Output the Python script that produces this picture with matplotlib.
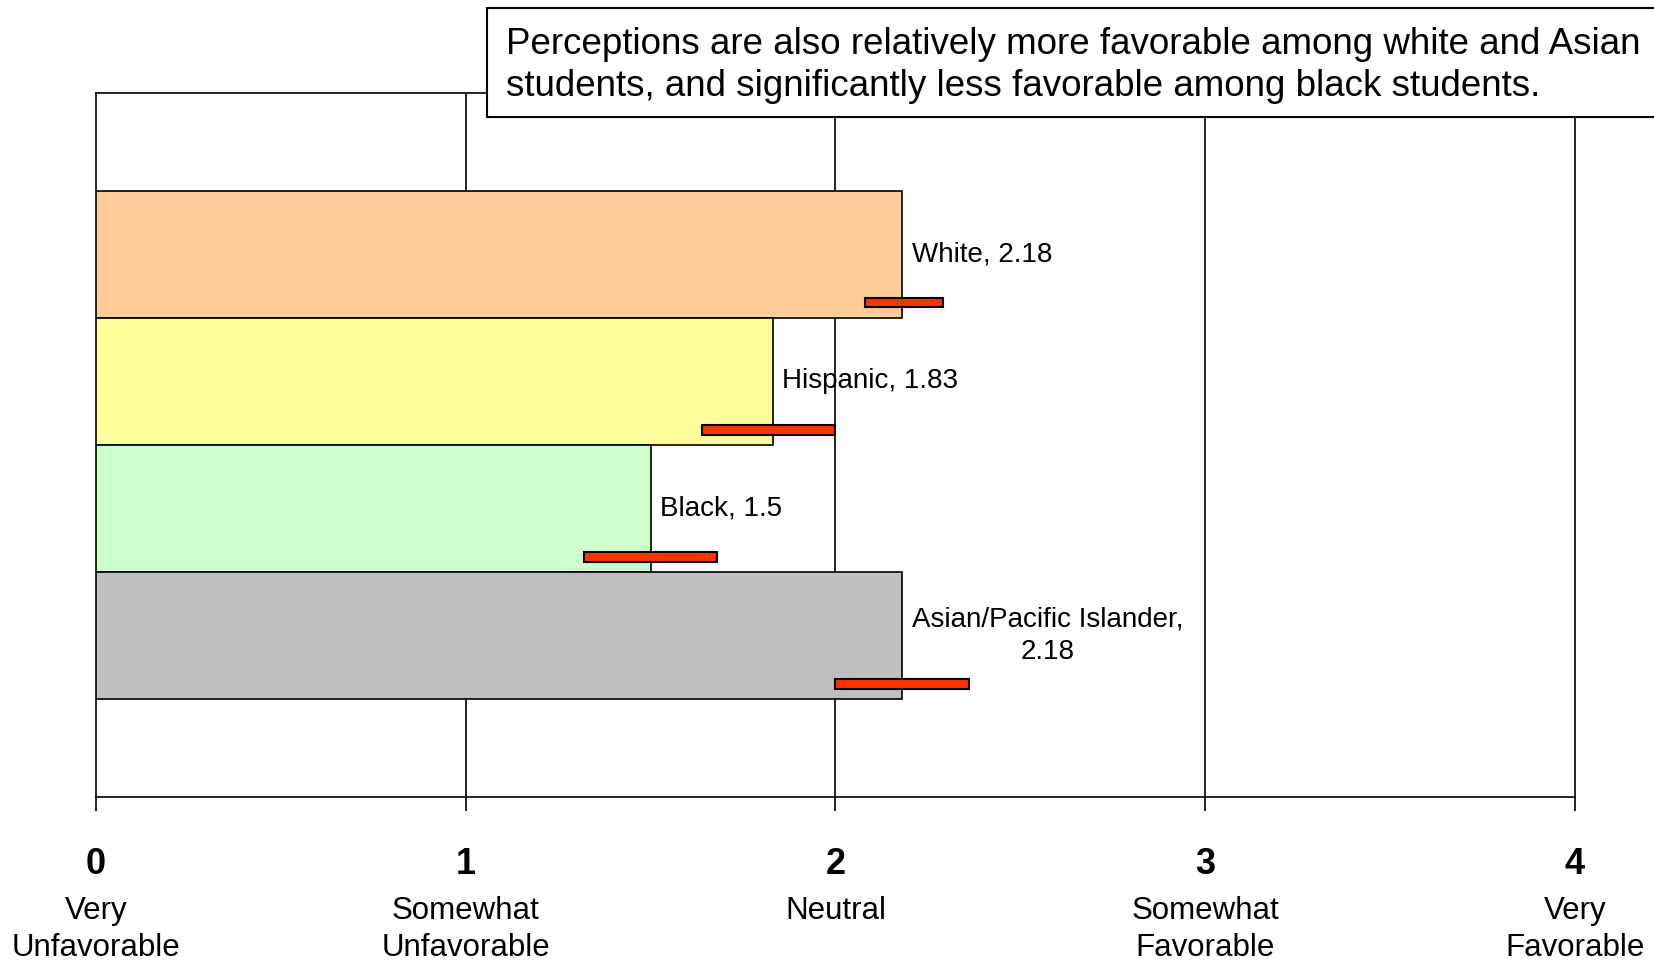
import numpy as np
import matplotlib
matplotlib.use("Agg")
import matplotlib.pyplot as plt
from matplotlib.patches import Rectangle

plt.rcParams["font.family"] = ["Liberation Sans", "DejaVu Sans"]

# Data
groups = ["White", "Hispanic", "Black", "Asian/Pacific Islander"]
means = [2.18, 1.83, 1.5, 2.18]
ci_low = [2.08, 1.64, 1.32, 2.00]
ci_high = [2.29, 2.00, 1.68, 2.36]
bar_colors = ["#FFCC99", "#FFFF99", "#CCFFCC", "#C0C0C0"]
point_labels = ["White, 2.18", "Hispanic, 1.83", "Black, 1.5", "Asian/Pacific Islander,\n2.18"]
tick_vals = [0, 1, 2, 3, 4]
tick_words = ["Very\nUnfavorable", "Somewhat\nUnfavorable", "Neutral",
              "Somewhat\nFavorable", "Very\nFavorable"]
note = ("Perceptions are also relatively more favorable among white and Asian\n"
        "students, and significantly less favorable among black students.")

fig = plt.figure(figsize=(16.54, 9.63), dpi=100)
ax = fig.add_axes([0.058, 0.1724, 0.8942, 0.731])

ypos = np.arange(len(groups))
ax.barh(ypos, means, height=1.0, color=bar_colors, edgecolor="black", linewidth=1.2, zorder=3)

# confidence interval markers
lo = np.array(ci_low)
hi = np.array(ci_high)
ax.barh(ypos + 0.38, hi - lo, left=lo, height=0.075, color="#FF3300",
        edgecolor="black", linewidth=1.5, zorder=4)

for y, m, lab in zip(ypos, means, point_labels):
    ax.annotate(lab, (m, y), xytext=(7, 0), textcoords="offset points",
                ha="left", va="center", fontsize=20, multialignment="center",
                linespacing=1.3, zorder=5)

ax.set_xlim(0, 4)
ax.set_ylim(3.5 + 0.77, -0.5 - 0.77)
for v in tick_vals[1:-1]:
    ax.axvline(v, color="black", linewidth=1.2, zorder=1)

for s in ["left", "top", "bottom", "right"]:
    ax.spines[s].set_linewidth(1.2)

ax.set_yticks([])
ax.set_xticks(tick_vals)
ax.set_xticklabels([str(v) for v in tick_vals], fontsize=26, fontweight="bold")
ax.tick_params(axis="x", direction="out", length=10, width=1.2, pad=26)
for v, w in zip(tick_vals, tick_words):
    ax.text(v, -0.14, w, transform=ax.get_xaxis_transform(), ha="center", va="top",
            fontsize=22.5, linespacing=1.32)

# note box
fig.patches.append(Rectangle((0.2944, 0.8785), 0.8, 0.1132, transform=fig.transFigure,
                             facecolor="white", edgecolor="black", linewidth=1.5, zorder=10))
fig.text(0.306, 0.932, note, ha="left", va="center", fontsize=26.5, linespacing=1.28, zorder=11)

fig.savefig("out.png", dpi=100)
